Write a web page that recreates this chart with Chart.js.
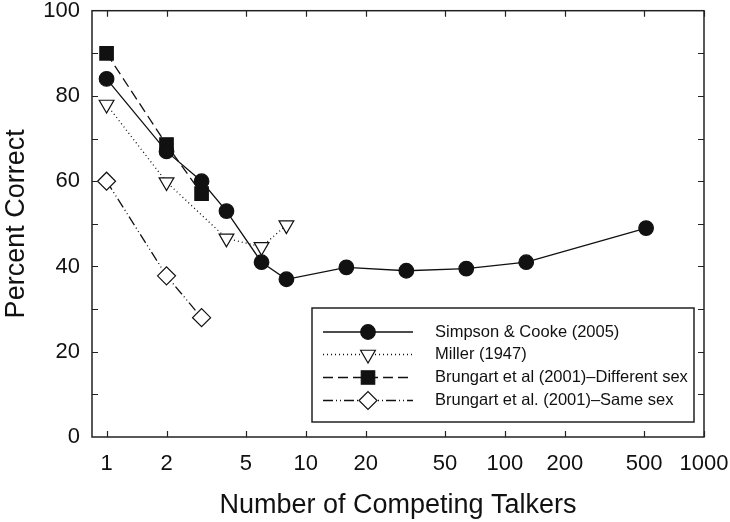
<!DOCTYPE html>
<html>
<head>
<meta charset="utf-8">
<script src="https://cdn.jsdelivr.net/npm/chart.js@4/dist/chart.umd.min.js"></script>
<style>
  html, body { margin: 0; padding: 0; background: #fff; }
  #wrap { width: 730px; height: 522px; position: relative; }
</style>
</head>
<body>
<div id="wrap"><canvas id="chart"></canvas></div>
<script>
// values
const xTicks = [1, 2, 5, 10, 20, 50, 100, 200, 500, 1000];
const yTicks = [0, 20, 40, 60, 80, 100];

const simpsonX = [1, 2, 3, 4, 6, 8, 16, 32, 64, 128, 512];
const simpsonY = [84, 67, 60, 53, 41, 37, 39.8, 39, 39.5, 41, 49];

const millerX = [1, 2, 4, 6, 8];
const millerY = [78, 59.8, 46.6, 44.6, 49.7];

const brungDiffX = [1, 2, 3];
const brungDiffY = [90, 68.6, 57.1];

const brungSameX = [1, 2, 3];
const brungSameY = [60, 37.8, 28];

const labels = [
  'Simpson & Cooke (2005)',
  'Miller (1947)',
  'Brungart et al (2001)\u2013Different sex',
  'Brungart et al. (2001)\u2013Same sex',
];

const FONT = '"Liberation Sans", Arial, Helvetica, sans-serif';
const INK = '#111';

const pts = (xs, ys) => xs.map((x, i) => ({ x, y: ys[i] }));

// marker + line styles per series (also reused for the legend samples)
const styles = [
  { dash: [], pointStyle: 'circle', radius: 7.3, rotation: 0, fill: INK },
  { dash: [1, 3], pointStyle: 'triangle', radius: 8.5, rotation: 180, fill: '#fff' },
  { dash: [10, 5], pointStyle: 'rect', radius: 9.5, rotation: 0, fill: INK },
  { dash: [10, 3, 1, 3, 1, 3], pointStyle: 'rectRot', radius: 9, rotation: 0, fill: '#fff' },
];

function makeSet(i, data) {
  const s = styles[i];
  return {
    label: labels[i],
    data,
    borderColor: INK,
    borderWidth: 1.3,
    borderDash: s.dash,
    backgroundColor: s.fill,
    pointStyle: s.pointStyle,
    pointRotation: s.rotation,
    pointRadius: s.radius,
    pointHoverRadius: s.radius,
    pointBackgroundColor: s.fill,
    pointBorderColor: INK,
    pointBorderWidth: 1.2,
    tension: 0,
    fill: false,
  };
}

// frame with inward ticks on all four sides
const framePlugin = {
  id: 'frame',
  afterDraw(chart) {
    const { ctx, chartArea: a, scales: { x, y } } = chart;
    const len = 6;
    ctx.save();
    ctx.strokeStyle = '#222';
    ctx.lineWidth = 1.5;
    ctx.setLineDash([]);
    ctx.strokeRect(a.left, a.top, a.right - a.left, a.bottom - a.top);
    ctx.lineWidth = 1.2;
    ctx.beginPath();
    xTicks.forEach(v => {
      const px = Math.round(x.getPixelForValue(v)) + 0.5;
      ctx.moveTo(px, a.bottom); ctx.lineTo(px, a.bottom - len);
      ctx.moveTo(px, a.top); ctx.lineTo(px, a.top + len);
    });
    for (let v = 10; v < 100; v += 10) {
      const py = Math.round(y.getPixelForValue(v)) + 0.5;
      ctx.moveTo(a.left, py); ctx.lineTo(a.left + len, py);
      ctx.moveTo(a.right, py); ctx.lineTo(a.right - len, py);
    }
    ctx.stroke();
    ctx.restore();
  },
};

// boxed legend with line + marker samples
const legendPlugin = {
  id: 'boxLegend',
  afterDraw(chart) {
    const { ctx } = chart;
    const box = { l: 312, t: 308, r: 694, b: 422 };
    const rowY = [332, 354.5, 377.5, 400.5];
    ctx.save();
    ctx.fillStyle = '#fff';
    ctx.fillRect(box.l, box.t, box.r - box.l, box.b - box.t);
    ctx.strokeStyle = '#222';
    ctx.lineWidth = 1.5;
    ctx.strokeRect(box.l, box.t, box.r - box.l, box.b - box.t);
    styles.forEach((s, i) => {
      const yy = rowY[i];
      ctx.strokeStyle = INK;
      ctx.lineWidth = 1.3;
      ctx.setLineDash(s.dash);
      ctx.beginPath();
      ctx.moveTo(323, yy); ctx.lineTo(413, yy);
      ctx.stroke();
      ctx.setLineDash([]);
      ctx.fillStyle = s.fill;
      ctx.lineWidth = 1.2;
      Chart.helpers.drawPoint(ctx, {
        pointStyle: s.pointStyle, rotation: s.rotation,
        radius: s.radius, borderWidth: 1.2,
      }, 368, yy);
      ctx.fillStyle = INK;
      ctx.font = `16.5px ${FONT}`;
      ctx.textBaseline = 'middle';
      ctx.textAlign = 'left';
      ctx.fillText(labels[i], 435, yy);
    });
    ctx.restore();
  },
};

new Chart(document.getElementById('chart'), {
  type: 'line',
  data: {
    datasets: [
      makeSet(0, pts(simpsonX, simpsonY)),
      makeSet(1, pts(millerX, millerY)),
      makeSet(2, pts(brungDiffX, brungDiffY)),
      makeSet(3, pts(brungSameX, brungSameY)),
    ],
  },
  options: {
    responsive: true,
    maintainAspectRatio: false,
    animation: false,
    layout: { padding: { top: 10, right: 26, left: 0, bottom: 0 } },
    plugins: {
      legend: { display: false },
      tooltip: { enabled: false },
    },
    scales: {
      x: {
        type: 'logarithmic',
        min: 0.845,
        max: 1000,
        afterBuildTicks: scale => { scale.ticks = xTicks.map(v => ({ value: v })); },
        afterFit: scale => {
          scale.height = 85;
          scale.paddingLeft = 0;
          scale.paddingRight = 0;
        },
        grid: { display: false, drawTicks: false },
        border: { display: false },
        ticks: {
          color: INK,
          padding: 14,
          maxRotation: 0,
          autoSkip: false,
          font: { family: FONT, size: 22 },
          callback: v => String(v),
        },
        title: {
          display: true,
          text: 'Number of Competing Talkers',
          color: INK,
          font: { family: FONT, size: 27 },
          padding: { top: 0, bottom: 0 },
        },
      },
      y: {
        min: 0,
        max: 100,
        afterBuildTicks: scale => { scale.ticks = yTicks.map(v => ({ value: v })); },
        afterFit: scale => {
          scale.width = 92;
          scale.paddingTop = 0;
          scale.paddingBottom = 0;
        },
        grid: { display: false, drawTicks: false },
        border: { display: false },
        ticks: {
          color: INK,
          padding: 12,
          font: { family: FONT, size: 22 },
        },
        title: {
          display: true,
          text: 'Percent Correct',
          color: INK,
          font: { family: FONT, size: 27 },
          padding: { top: 0, bottom: 0 },
        },
      },
    },
  },
  plugins: [framePlugin, legendPlugin],
});
</script>
</body>
</html>
